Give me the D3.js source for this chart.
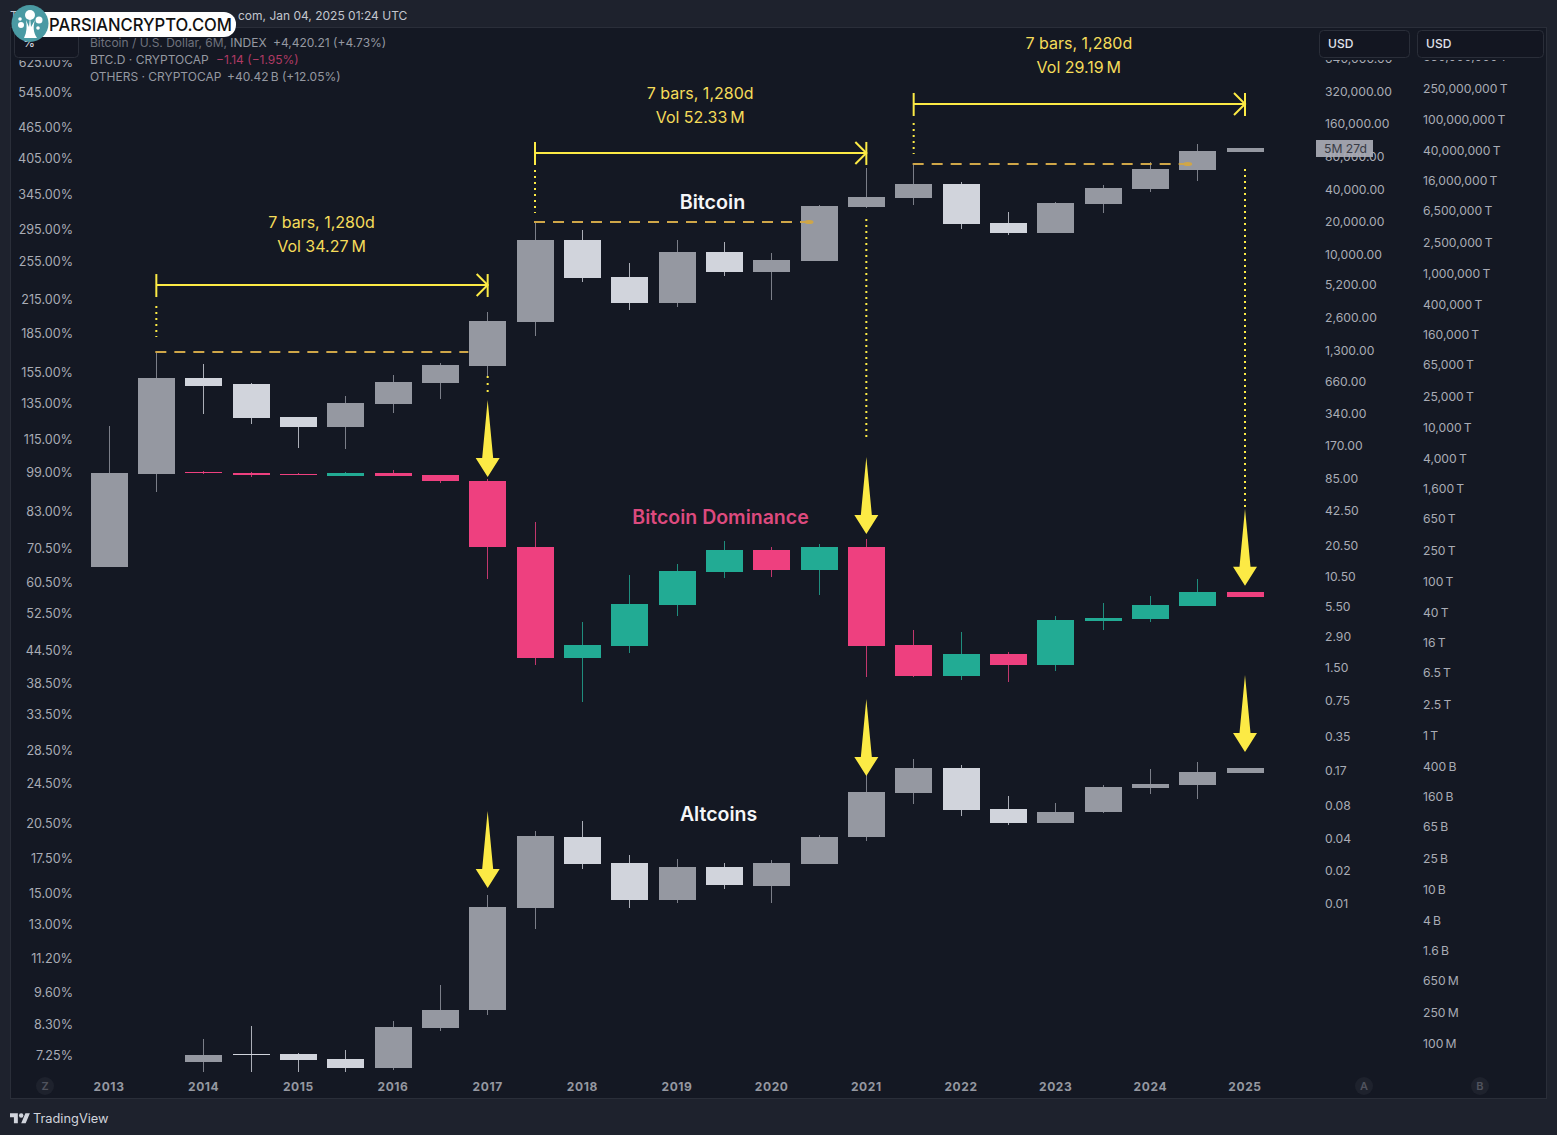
<!DOCTYPE html>
<html><head><meta charset="utf-8">
<style>
html,body{margin:0;padding:0;background:#1e222d;width:1557px;height:1135px;overflow:hidden}
svg{display:block}
text{font-family:Inter,"Noto Sans",sans-serif}
.tick text{font-family:Inter,"Noto Sans",sans-serif}
</style>
<script src="https://cdn.jsdelivr.net/npm/d3@7/dist/d3.min.js"></script>
</head><body><svg id="c" width="1557" height="1135"></svg>
<script>
const periods=["2013H1","2013H2","2014H1","2014H2","2015H1","2015H2","2016H1","2016H2","2017H1","2017H2","2018H1","2018H2","2019H1","2019H2","2020H1","2020H2","2021H1","2021H2","2022H1","2022H2","2023H1","2023H2","2024H1","2024H2","2025H1"];
const years=["2013","2014","2015","2016","2017","2018","2019","2020","2021","2022","2023","2024","2025"];

const btcOpen=[12.8,92,711,625,310,251,408,638,918,2345,13440,6100,3510,10400,6790,8580,27080,32800,44200,19300,15600,28880,39700,59520,87280];
const btcHigh=[256,1211,957,638,310,484,756,979,2900,19300,16620,8220,13440,12850,10200,28300,62080,66240,46100,24380,30150,43280,70560,103500,95040];
const btcLow=[12.8,63,330,268,160,157,338,454,742,1740,5490,3025,3225,6230,3740,8580,26530,28300,16980,14940,15600,23860,37280,47100,87280];
const btcClose=[94.9,711,599,304,251,417,652,938,2395,13440,5980,3510,10400,6790,8760,27680,33520,44200,18880,15600,29520,40600,60800,89200,95040];

const domOpen=[null,null,99.0,98.7,98.1,97.2,98.7,97.7,95.1,70.7,42.9,45.3,54.5,63.2,69.8,63.8,70.7,45.5,39.6,43.7,41.6,50.7,51.2,54.3,57.8];
const domHigh=[null,null,99.6,99.0,98.6,99.0,99.9,97.7,95.9,79.1,50.5,62.4,65.5,72.6,70.7,71.7,73.3,48.7,48.3,44.1,51.9,55.0,56.7,61.2,57.8];
const domLow=[null,null,98.1,96.8,97.7,97.2,97.2,94.2,61.2,41.6,35.3,43.9,51.9,61.5,61.8,57.0,39.5,39.5,38.9,38.6,40.5,48.7,50.5,54.3,56.5];
const domClose=[null,null,98.6,97.7,97.7,98.7,97.2,95.1,70.7,42.9,45.5,54.8,63.5,69.8,63.8,70.7,45.3,39.6,43.7,41.6,51.0,51.4,54.5,57.8,56.5];

// OTHERS market cap, in billions of USD
const altOpen=[null,null,.0566,.0720,.0720,.0620,.0473,.1567,.2685,5.66,47.3,21.8,7.2,19.3,10.9,21.1,47.3,177,373,109,72,100,205,224,321];
const altHigh=[null,null,.1127,.1663,.0741,.0811,.1932,.5665,8.36,56.6,76.4,27.7,24.5,21.8,23.8,50.2,303,488,408,161,131,224,362,446,373];
const altLow=[null,null,.0420,.0420,.0420,.0420,.0446,.1432,.231,3.03,18.2,5.66,6.58,10.0,6.58,21.1,42,127,88.7,67.8,72,97,171,148,321];
const altClose=[null,null,.0698,.0698,.0601,.0473,.1614,.2685,5.84,48.8,21.1,7.2,19.3,11.3,21.8,47.3,182,373,106,72,100,211,231,331,373];

const pctTicks=[625,545,465,405,345,295,255,215,185,155,135,115,99,83,70.5,60.5,52.5,44.5,38.5,33.5,28.5,24.5,20.5,17.5,15,13,11.2,9.6,8.3,7.25];
const usdTicks=[640000,320000,160000,80000,40000,20000,10000,5200,2600,1300,660,340,170,85,42.5,20.5,10.5,5.5,2.9,1.5,0.75,0.35,0.17,0.08,0.04,0.02,0.01];
const capTicks=[650e6,250e6,100e6,40e6,16e6,6.5e6,2.5e6,1e6,400e3,160e3,65e3,25e3,10e3,4000,1600,650,250,100,40,16,6.5,2.5,1,.4,.16,.065,.025,.01,.004,.0016,.00065,.00025,.0001]; // in trillions

const ranges=[{from:"2013H2",to:"2017H1",text:"7 bars, 1,280d",vol:"Vol 34.27\u2009M"},
 {from:"2017H2",to:"2021H1",text:"7 bars, 1,280d",vol:"Vol 52.33\u2009M"},
 {from:"2021H2",to:"2025H1",text:"7 bars, 1,280d",vol:"Vol 29.19\u2009M"}];

const C={gray:"#9598a1",light:"#d1d4dc",teal:"#22ab94",pink:"#ee407f",yellow:"#fcea45",amber:"#cfa648",txt:"#a9acb5",pane:"#141823"};

const svg=d3.select("#c");
svg.append("rect").attr("width",1557).attr("height",1135).attr("fill","#1e222d");
svg.append("rect").attr("x",10.5).attr("y",27.5).attr("width",1536).attr("height",1071).attr("fill",C.pane).attr("stroke","#2a2e39");

const x=d3.scalePoint().domain(periods).range([109,1245]);
const yBtc=d3.scaleLog().domain([0.01,320000]).range([903,91]);
const yPct=d3.scaleLog().domain([7.25,625]).range([1054.4,61.4]);
const yCap=d3.scaleLog().domain([0.0001,1]).range([1043,735]);   // trillions
const yAlt=v=>yCap(v/1000);
const BW=37;

function candles(o,h,l,c,y,up,down){
  const rows=periods.map((p,i)=>({p,o:o[i],h:h[i],l:l[i],c:c[i]})).filter(d=>d.o!=null);
  const col=d=>d.c>=d.o?up:down;
  const left=d=>Math.round(x(d.p)-BW/2);
  const g=svg.append("g").attr("shape-rendering","crispEdges");
  g.selectAll("line").data(rows).join("line")
   .attr("x1",d=>left(d)+BW/2).attr("x2",d=>left(d)+BW/2).attr("y1",d=>y(d.h)).attr("y2",d=>y(d.l))
   .attr("stroke",col).attr("stroke-width",1).attr("stroke-opacity",.8);
  g.selectAll("rect").data(rows).join("rect")
   .attr("x",left).attr("width",BW)
   .attr("y",d=>Math.round(Math.min(y(d.o),y(d.c))))
   .attr("height",d=>Math.max(1,Math.round(Math.abs(y(d.o)-y(d.c)))))
   .attr("fill",col);
}
candles(btcOpen,btcHigh,btcLow,btcClose,yBtc,C.gray,C.light);
candles(domOpen,domHigh,domLow,domClose,yPct,C.teal,C.pink);
candles(altOpen,altHigh,altLow,altClose,yAlt,C.gray,C.light);

// axes
function styleAxis(g,size,color,weight){
  g.select(".domain").remove();
  g.selectAll(".tick line").remove();
  g.selectAll(".tick text").attr("fill",color).style("font-size",size+"px").style("font-weight",weight||400);
}
const axL=svg.append("g").attr("transform","translate(73,0.6)")
  .call(d3.axisLeft(yPct).tickValues(pctTicks).tickSize(0).tickPadding(0).tickFormat(d=>d3.format(".2f")(d)+"%"));
styleAxis(axL,12.6,C.txt);
const axA=svg.append("g").attr("transform","translate(1325,0.5)")
  .call(d3.axisRight(yBtc).tickValues(usdTicks).tickSize(0).tickPadding(0).tickFormat(d=>d3.format(",.2f")(d)));
styleAxis(axA,12.2,C.txt);
const capFmt=t=>{
  if(t>=1) return d3.format(",")(t)+"\u2009T";
  if(t>=0.001) return d3.format("~r")(+(t*1000).toPrecision(3))+"\u2009B";
  return d3.format("~r")(+(t*1e6).toPrecision(3))+"\u2009M";
};
const axB=svg.append("g").attr("transform","translate(1423,0.5)")
  .call(d3.axisRight(yCap).tickValues(capTicks).tickSize(0).tickPadding(0).tickFormat(capFmt));
styleAxis(axB,12.2,C.txt);
const axX=svg.append("g").attr("transform","translate(-0.5,1082)")
  .call(d3.axisBottom(x).tickValues(years.map(y=>y+"H1")).tickSize(0).tickPadding(0).tickFormat(d=>d.slice(0,4)));
styleAxis(axX,12,"#9598a1",700);
axX.selectAll(".tick text").attr("y",0).attr("dy",".71em").style("letter-spacing","0.6px");

// annotations
function text(x0,y0,s,o={}){
  return svg.append("text").attr("x",x0).attr("y",y0).text(s)
    .attr("fill",o.fill||"#fff").attr("text-anchor",o.anchor||"start")
    .style("font-size",(o.size||12)+"px").style("font-weight",o.weight||400);
}
function seg(x1,y1,x2,y2,stroke,w,dash){
  const l=svg.append("line").attr("x1",x1).attr("y1",y1).attr("x2",x2).attr("y2",y2).attr("stroke",stroke).attr("stroke-width",w);
  if(dash) l.attr("stroke-dasharray",dash);
  return l;
}
// per-measure offsets from the candle high the measure starts on
[[67,312,46,15,false,57,33],[69,276,52,9,true,54,30],[60,276,41,10,true,55,31]].forEach((k,n)=>{
  const r=ranges[n];
  const [drop,len,lead0,lead1,blob,up1,up2]=k;
  const xa=x(r.from), xb=x(r.to);
  const i=periods.indexOf(r.from);
  const lev=yBtc(btcHigh[i])-1;
  const ly=lev-drop;
  seg(xa-1,lev,xa+len,lev,C.amber,2,"11 8");
  if(blob) svg.append("ellipse").attr("cx",xa+274).attr("cy",lev).attr("rx",4.5).attr("ry",2).attr("fill",C.amber);
  seg(xa,lev-lead0,xa,lev-lead1,C.yellow,2,"2 4");
  seg(xa,ly,xb,ly,C.yellow,2);
  seg(xa,ly-11,xa,ly+12,C.yellow,2);
  seg(xb,ly-11,xb,ly+12,C.yellow,2);
  svg.append("path").attr("d",d3.line()([[xb-11,ly-11],[xb,ly],[xb-11,ly+11]])).attr("fill","none").attr("stroke",C.yellow).attr("stroke-width",2);
  const cx=(xa+xb)/2-0.5;
  text(cx,ly-up1,r.text,{fill:"#f5dc5a",anchor:"middle",size:16});
  text(cx,ly-up2,r.vol,{fill:"#f5dc5a",anchor:"middle",size:16});
});
// dotted drop lines
seg(x("2017H1"),376,x("2017H1"),392,C.yellow,2,"2 5");
seg(x("2021H1"),219,x("2021H1"),438,C.yellow,2,"2 4");
seg(x("2025H1"),169,x("2025H1"),510,C.yellow,2,"2 4");

function arrow(p,y,gap){
  const cx=x(p), tip=y-gap;
  const pts=[[cx,tip-77],[cx+5.5,tip-19],[cx+12,tip-19],[cx,tip],[cx-12,tip-19],[cx-5.5,tip-19]];
  svg.append("path").attr("d",d3.line()(pts)+"Z").attr("fill",C.yellow);
}
const idx=p=>periods.indexOf(p);
arrow("2017H1",yPct(domHigh[idx("2017H1")]),2);
arrow("2021H1",yPct(domHigh[idx("2021H1")]),5);
arrow("2025H1",yPct(domHigh[idx("2025H1")]),6);
arrow("2017H1",yAlt(altHigh[idx("2017H1")]),7);
arrow("2021H1",yAlt(altHigh[idx("2021H1")]),-1);
arrow("2025H1",yAlt(altHigh[idx("2025H1")]),16);

text(712.5,209,"Bitcoin",{fill:"#f5f6f8",anchor:"middle",size:19.7,weight:600});
text(720.5,524,"Bitcoin Dominance",{fill:"#dd4a7e",anchor:"middle",size:19.5,weight:600});
text(718.5,821,"Altcoins",{fill:"#f5f6f8",anchor:"middle",size:19.5,weight:600});

// countdown tag
svg.append("rect").attr("x",1316).attr("y",140).attr("width",57).attr("height",17).attr("fill","#a9abb5").attr("opacity",.93);
text(1324,153,"5M 27d",{fill:"#383b45",size:12.2});

// axis selector boxes, each with a thin mask that trims labels scrolling under it
[[14,28,64,29],[1319,30,90,27],[1417,30,126,27]].forEach(b=>{
  svg.append("rect").attr("x",b[0]-3).attr("y",b[1]).attr("width",b[2]+6).attr("height",b[3]+3).attr("fill",C.pane);
  svg.append("rect").attr("x",b[0]+.5).attr("y",b[1]+.5).attr("width",b[2]).attr("height",b[3]).attr("rx",4).attr("fill","#131621").attr("stroke","#2a2e39");
});
text(29,47,"%",{fill:"#d1d4dc",size:12,weight:500}).attr("text-anchor","middle");
text(1328,48,"USD",{fill:"#e0e3eb",size:12,weight:500});
text(1426,48,"USD",{fill:"#e0e3eb",size:12,weight:500});

// legend
const dim="#6f727d",mid="#9598a1";
const l1=text(90,47,"",{fill:dim});
l1.append("tspan").text("Bitcoin / U.S. Dollar, 6M, ");
l1.append("tspan").attr("fill",mid).text("INDEX");
text(273,47,"+4,420.21 (+4.73%)",{fill:mid});
text(90,64,"BTC.D · CRYPTOCAP",{fill:mid});
text(216,64,"\u22121.14 (\u22121.95%)",{fill:"#b03a63"});
text(90,81,"OTHERS · CRYPTOCAP",{fill:mid});
text(227,81,"+40.42\u2009B (+12.05%)",{fill:mid});

// pane badges
[["Z",45],["A",1364],["B",1480]].forEach(([t,cx])=>{
  svg.append("circle").attr("cx",cx).attr("cy",1086).attr("r",9).attr("fill","#1e222d");
  text(cx,1090,t,{fill:"#50535e",anchor:"middle",size:11,weight:600});
});

// footer mark
svg.append("g").attr("transform","translate(10,1111) scale(0.56)").html('<path fill="#d1d4dc" d="M14 22H7V11H0V4h14v18zM28 22h-8l7.5-18h8L28 22z"/><circle fill="#d1d4dc" cx="20" cy="8" r="4"/>');
text(33,1123,"TradingView",{fill:"#d1d4dc",size:12.8});

// top strip (the watermark covers the start of this line)
text(10,20,"T",{fill:"#c3c6ce",size:12});
text(238,20,"com, Jan 04, 2025 01:24 UTC",{fill:"#c3c6ce",size:12});
// watermark pill
svg.append("rect").attr("x",30).attr("y",12).attr("width",206).attr("height",25).attr("rx",12).attr("fill","#fff");
svg.append("circle").attr("cx",30).attr("cy",23.5).attr("r",18.5).attr("fill","#4a9aa3");
const w=svg.append("g").attr("fill","#fff");
w.append("path").attr("d","M24 38 C27 32 27 26 26 20 L29 27 L30 17 L31 27 L35 20 C33 26 33 32 37 38 Z");
[[30,15,5],[21,25,3],[39,20,3.5],[20,19,1.8],[38,28,1.8]].forEach(c=>w.append("circle").attr("cx",c[0]).attr("cy",c[1]).attr("r",c[2]));
text(49,31,"PARSIANCRYPTO.COM",{fill:"#111",size:17.5,weight:500}).attr("textLength",183).attr("lengthAdjust","spacingAndGlyphs");
</script></body></html>
